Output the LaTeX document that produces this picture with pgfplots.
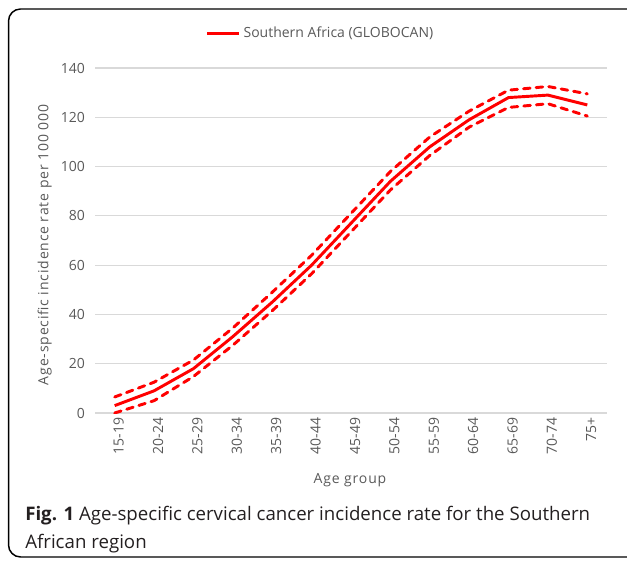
\documentclass[border=0pt]{standalone}
\usepackage{pgfplots}
\pgfplotsset{compat=1.18}
\usepackage{fontspec}
\setmainfont{Open Sans}
\newfontfamily\spaced[LetterSpace=6]{Open Sans}
\definecolor{txtgray}{HTML}{595959}
\definecolor{gridgray}{HTML}{D9D9D9}
\definecolor{capgray}{HTML}{231F20}

\pgfplotstableread{
x main upper lower
0 3 6.5 0
1 9 12.5 5
2 18 21.5 14.8
3 31 34.5 27.5
4 45 49 41.5
5 60 64 56.5
6 77 81 73.5
7 94 98 90.5
8 108 112 104.5
9 119 122.5 116
10 128 131 124
11 129 132.5 125.5
12 125 129.5 120.5
}\datatable

\begin{document}
\begin{tikzpicture}
\useasboundingbox (0pt,0pt) rectangle (470.25pt,422.25pt);
\draw[line width=1.1pt, rounded corners=9pt] (6.4pt,4.5pt) rectangle (495pt,415.5pt);
\begin{axis}[
  at={(71.25pt,112.5pt)}, anchor=south west,
  scale only axis, width=384pt, height=258.75pt,
  xmin=-0.5, xmax=12.5, ymin=0, ymax=140,
  xtick={0,...,12},
  xticklabels={15-19,20-24,25-29,30-34,35-39,40-44,45-49,50-54,55-59,60-64,65-69,70-74,75+},
  xticklabel style={rotate=90, anchor=east, font=\fontsize{10.5}{12}\selectfont, text=txtgray, yshift=-3pt},
  ytick={0,20,...,140},
  yticklabel style={font=\fontsize{10.5}{12}\selectfont, text=txtgray, xshift=-4pt},
  /pgf/number format/assume math mode=true,
  axis line style={draw=none},
  major tick length=0pt,
  ymajorgrids, grid style={gridgray, line width=0.8pt},
  xlabel={Age group},
  ylabel={Age-specific incidence rate per 100 000},
  label style={font=\spaced\fontsize{10.5}{12}\selectfont, text=txtgray},
  xlabel style={at={(axis description cs:0.498,-0.194)}, anchor=center},
  ylabel style={at={(axis description cs:-0.098,0.487)}, anchor=center, rotate=0},
  legend style={at={(axis description cs:0.441,1.101)}, anchor=center, draw=none, fill=none,
    font=\fontsize{10.5}{12}\selectfont, text=txtgray, inner sep=1pt},
  legend cell align=left,
  legend image code/.code={\draw[#1] (0cm,0cm) -- (0.85cm,0cm);},
]
\draw[gridgray, line width=1.3pt] (axis cs:-0.5,0) -- (axis cs:12.5,0);
\addplot[red, line width=2.2pt, line cap=round, dash pattern=on 5pt off 4.5pt, forget plot] table[x=x, y=upper] {\datatable};
\addplot[red, line width=2.2pt, line cap=round, dash pattern=on 5pt off 4.5pt, forget plot] table[x=x, y=lower] {\datatable};
\addplot[red, line width=2.2pt] table[x=x, y=main] {\datatable};
\addlegendentry{Southern Africa (GLOBOCAN)}
\end{axis}
\node[anchor=base west, inner sep=0pt, font=\fontsize{14}{16}\selectfont, text=capgray] at (18.75pt,31.5pt) {\textbf{Fig. 1} Age-specific cervical cancer incidence rate for the Southern};
\node[anchor=base west, inner sep=0pt, font=\fontsize{14}{16}\selectfont, text=capgray] at (18.75pt,11.25pt) {African region};
\end{tikzpicture}
\end{document}
